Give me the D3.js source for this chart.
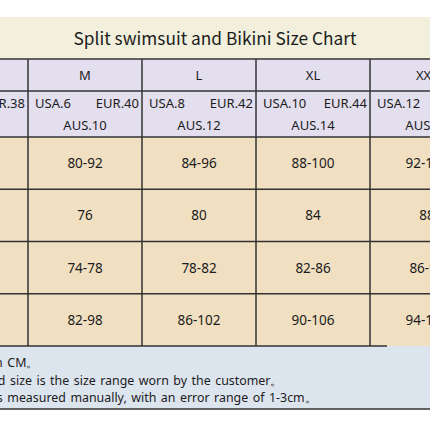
<!DOCTYPE html>
<html>
<head>
<meta charset="utf-8">
<script src="https://cdn.jsdelivr.net/npm/d3@7"></script>
<style>
  html, body { margin: 0; padding: 0; background: #fff; }
  svg { display: block; }
  text { font-family: "Noto Sans", "Open Sans", sans-serif; fill: #1c1c1c; }
  .title { font-family: "Noto Sans CJK SC", "Noto Sans", sans-serif; }
</style>
</head>
<body>
<svg id="chart"></svg>
<script>
const title = "Split swimsuit and Bikini Size Chart";
const sizes = ["S", "M", "L", "XL", "XXL"];
const usaSizes = ["USA.4", "USA.6", "USA.8", "USA.10", "USA.12"];
const eurSizes = ["EUR.38", "EUR.40", "EUR.42", "EUR.44", "EUR.46"];
const ausSizes = ["AUS.8", "AUS.10", "AUS.12", "AUS.14", "AUS.16"];
const measures = ["Bust", "Underbust", "Waist", "Hip"];
const bust = ["76-88", "80-92", "84-96", "88-100", "92-104"];
const underbust = ["72", "76", "80", "84", "88"];
const waist = ["70-74", "74-78", "78-82", "82-86", "86-90"];
const hip = ["78-94", "82-98", "86-102", "90-106", "94-110"];
const notes = [
    "1. The size unit is in CM\u3002",
    "2. The recommended size is the size range worn by the customer\u3002",
    "3. The data is measured manually, with an error range of 1-3cm\u3002"
];
// word of each note that is placed at a given left edge
const noteAnchors = ["CM", "size is", "measured"];

const W = 430, H = 430;
const svg = d3.select("#chart").attr("width", W).attr("height", H);

const x = d3.scaleBand().domain(sizes).range([-86, 484]);
const rows = d3.scaleBand().domain(measures).range([137, 346]);
const values = { Bust: bust, Underbust: underbust, Waist: waist, Hip: hip };

const titleTop = 17, headTop = 59, subTop = 91, bodyTop = 137, bodyBottom = 346, noteBottom = 409;

// backgrounds
svg.append("rect").attr("x", 0).attr("y", titleTop).attr("width", W).attr("height", headTop - titleTop).attr("fill", "#f2f0dc");
svg.append("rect").attr("x", 0).attr("y", headTop).attr("width", W).attr("height", bodyTop - headTop).attr("fill", "#e3dfee");
svg.append("rect").attr("x", 0).attr("y", bodyTop).attr("width", W).attr("height", bodyBottom - bodyTop).attr("fill", "#f0dfc1");
svg.append("rect").attr("x", 0).attr("y", bodyBottom).attr("width", W).attr("height", noteBottom - bodyBottom).attr("fill", "#dce4ee");

svg.append("text").attr("class", "title").attr("x", 215).attr("y", 45).attr("text-anchor", "middle")
    .style("font-size", "17.3px").text(title);

// grid lines
const line = (x1, y1, x2, y2, w, c) => svg.append("line")
    .attr("x1", x1).attr("y1", y1).attr("x2", x2).attr("y2", y2)
    .attr("stroke", c || "#333").attr("stroke-width", w || 1.3);

line(0, headTop, W, headTop, 1.6);
line(0, subTop, W, subTop, 1.3);
rows.domain().forEach(m => line(0, rows(m), W, rows(m), 1.3));
line(0, bodyBottom, 387, bodyBottom, 1.3);
line(0, noteBottom, W, noteBottom, 1.4);
sizes.slice(1).forEach(s => line(x(s), headTop, x(s), bodyBottom, 1.5));

// header
const fs = "13px";
const cols = svg.append("g").selectAll("g").data(sizes).join("g");
cols.append("text").attr("x", d => x(d) + x.bandwidth() / 2).attr("y", 80)
    .attr("text-anchor", "middle").style("font-size", fs).text(d => d);
cols.append("text").attr("x", d => x(d) + 7).attr("y", 108)
    .style("font-size", fs).text((d, i) => usaSizes[i]);
cols.append("text").attr("x", d => x(d) + x.bandwidth() - 3).attr("y", 108)
    .attr("text-anchor", "end").style("font-size", fs).text((d, i) => eurSizes[i]);
cols.append("text").attr("x", d => x(d) + x.bandwidth() / 2).attr("y", 130)
    .attr("text-anchor", "middle").style("font-size", fs).text((d, i) => ausSizes[i]);

// body values
measures.forEach(m => {
    svg.append("g").selectAll("text").data(values[m]).join("text")
        .attr("x", (d, i) => x(sizes[i]) + x.bandwidth() / 2)
        .attr("y", rows(m) + rows.bandwidth() / 2 + 5)
        .attr("text-anchor", "middle").style("font-size", "13.5px").text(d => d);
});

// notes: the table is cropped on the left, so shift each line so its anchor word lands where it shows
const noteStarts = [7.3, 10, 7.3];
svg.append("g").selectAll("text").data(notes).join("text")
    .attr("y", (d, i) => 367 + i * 17.5)
    .style("font-size", "12.4px").style("word-spacing", "1.3px").text(d => d)
    .each(function(d, i) {
        const idx = d.indexOf(noteAnchors[i]);
        const pre = idx > 0 ? this.getSubStringLength(0, idx) : 0;
        d3.select(this).attr("x", noteStarts[i] - pre);
    });
</script>
</body>
</html>
